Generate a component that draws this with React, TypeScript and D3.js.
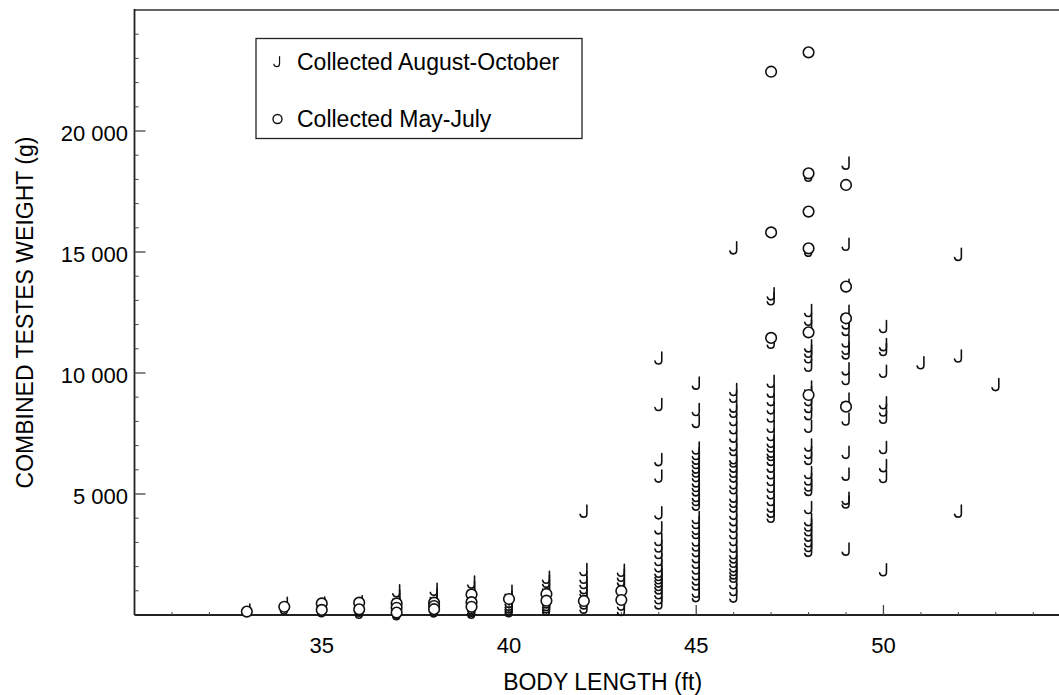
import React from "react";
import * as d3 from "d3";

// Body length (ft) -> combined testes weight (g), animals collected August-October
const augOctByLength: [number, number[]][] = [
  [33, [180]],
  [34, [460, 270]],
  [35, [470, 330, 160]],
  [36, [520, 360, 180, 90]],
  [37, [980, 760, 610, 470, 330, 210, 90, 30]],
  [38, [1040, 830, 690, 560, 450, 340, 250, 150]],
  [39, [1340, 1120, 930, 760, 620, 480, 390, 280, 170, 90]],
  [40, [960, 730, 540, 420, 330, 250, 160]],
  [41, [1540, 1370, 1180, 1010, 760, 520, 410, 320, 230]],
  [42, [4270, 1860, 1540, 1320, 1110, 950, 740, 480, 300]],
  [43, [1830, 1620, 1430, 1240, 1060, 880, 430, 210]],
  [44, [10600, 8680, 6400, 5720, 4200, 3580, 3100, 2830, 2560, 2270, 2010, 1790, 1650, 1520, 1380, 1240, 1100, 900, 690, 480]],
  [45, [9560, 8470, 7980, 6880, 6650, 6460, 6280, 6090, 5930, 5740, 5520, 5330, 5150, 4920, 4750, 4560, 4010, 3800, 3560, 3390, 3080, 2870, 2640, 2390, 2160, 1920, 1680, 1470, 1260, 960, 780]],
  [46, [15150, 9300, 9020, 8610, 8400, 8060, 7720, 7370, 7020, 6820, 6480, 6340, 6130, 5920, 5720, 5440, 5240, 4890, 4680, 4480, 4180, 3920, 3650, 3380, 3100, 2820, 2550, 2380, 2200, 2010, 1860, 1720, 1580, 1310, 1030, 760]],
  [47, [13250, 13050, 11250, 9640, 9230, 8880, 8540, 8200, 7780, 7440, 7160, 6960, 6750, 6610, 6410, 6130, 5860, 5580, 5300, 5030, 4750, 4480, 4270, 4060]],
  [48, [18150, 15050, 12560, 12200, 11910, 11100, 10880, 10650, 10300, 9400, 9170, 8880, 8600, 8300, 7780, 7000, 6700, 6450, 5870, 5600, 5350, 5170, 4420, 3920, 3700, 3500, 3280, 3050, 2850, 2650]],
  [49, [18650, 15300, 13600, 12530, 12050, 11780, 11300, 11000, 10810, 10150, 9750, 8900, 8080, 6700, 5800, 4800, 4650, 2700]],
  [50, [11900, 11150, 10950, 10050, 8750, 8450, 8150, 6900, 6150, 5700, 1850]],
  [51, [10400]],
  [52, [14880, 10680, 4270]],
  [53, [9500]],
];

// Animals collected May-July
const mayJulyByLength: [number, number[]][] = [
  [33, [140]],
  [34, [340]],
  [35, [480, 210]],
  [36, [510, 235]],
  [37, [480, 300, 100]],
  [38, [510, 370, 240]],
  [39, [850, 530, 340]],
  [40, [660]],
  [41, [870, 590]],
  [42, [580]],
  [43, [990, 620]],
  [47, [22450, 15810, 11450]],
  [48, [23250, 18250, 16670, 15150, 11680, 9090]],
  [49, [17770, 13570, 12260, 8610]],
];

const xMajorTicks = [35, 40, 45, 50];
const yMajorTicks = [5000, 10000, 15000, 20000];
const yTickLabels = ["5 000", "10 000", "15 000", "20 000"];
const legendLabels = ["Collected August-October", "Collected May-July"];

const W = 1059;
const H = 695;
const FONT = "'Liberation Sans', Arial, Helvetica, sans-serif";

const x = d3.scaleLinear().domain([30, 55]).range([134.5, 1070.7]);
const y = d3.scaleLinear().domain([0, 25000]).range([615, 10]);

// Hook-shaped marker: vertical stem with a curl at the bottom-left
const HOOK = "M3,-6.5V2Q3,5.5 -0.3,5.5Q-3.2,5.5 -3.8,2.6";

const flatten = (rows: [number, number[]][]) =>
  rows.flatMap(([len, ws]) => ws.map((w) => ({ len, w })));

export default function App() {
  const hooks = flatten(augOctByLength);
  const rings = flatten(mayJulyByLength);
  const xMinor = d3.range(31, 55).filter((v) => !xMajorTicks.includes(v));
  const yMinor = d3.range(1000, 25000, 1000).filter((v) => !yMajorTicks.includes(v));
  const [x0, x1] = x.range();
  const [y0, y1] = y.range();

  return (
    <svg
      width={W}
      height={H}
      style={{ position: "absolute", left: 0, top: 0, display: "block", background: "#fff" }}
      fontFamily={FONT}
    >
      <rect width={W} height={H} fill="#fff" />

      {/* frame */}
      <line x1={x0} x2={W} y1={y1} y2={y1} stroke="#333" strokeWidth={1.5} />
      <line x1={x0} x2={x0} y1={y1 - 1} y2={y0} stroke="#222" strokeWidth={1.8} />
      <line x1={x0} x2={W} y1={y0} y2={y0} stroke="#222" strokeWidth={1.8} />

      {/* x ticks */}
      {xMinor.map((v) => (
        <line key={"xm" + v} x1={x(v)} x2={x(v)} y1={y0} y2={y0 - 3} stroke="#444" strokeWidth={1} />
      ))}
      {xMajorTicks.map((v) => (
        <g key={"xM" + v}>
          <line x1={x(v)} x2={x(v)} y1={y0} y2={y0 - 10} stroke="#444" strokeWidth={1.3} />
          <text x={x(v)} y={653} textAnchor="middle" fontSize={22} fill="#000">
            {v}
          </text>
        </g>
      ))}

      {/* y ticks */}
      {yMinor.map((v) => (
        <line key={"ym" + v} x1={x0} x2={x0 + 4} y1={y(v)} y2={y(v)} stroke="#444" strokeWidth={1} />
      ))}
      {yMajorTicks.map((v, i) => (
        <g key={"yM" + v}>
          <line x1={x0} x2={x0 + 11} y1={y(v)} y2={y(v)} stroke="#444" strokeWidth={1.3} />
          <text x={128} y={y(v) + 9.5} textAnchor="end" fontSize={22} fill="#000">
            {yTickLabels[i]}
          </text>
        </g>
      ))}

      {/* axis titles */}
      <text x={(x0 + x1) / 2} y={690} textAnchor="middle" fontSize={23} fill="#000">
        BODY LENGTH (ft)
      </text>
      <text
        transform={`translate(33,${(y0 + y1) / 2}) rotate(-90)`}
        textAnchor="middle"
        fontSize={23}
        fill="#000"
      >
        COMBINED TESTES WEIGHT (g)
      </text>

      {/* August-October */}
      {hooks.map((d, i) => (
        <path
          key={"h" + i}
          d={HOOK}
          transform={`translate(${x(d.len)},${y(d.w)})`}
          fill="none"
          stroke="#111"
          strokeWidth={1.6}
          strokeLinecap="round"
        />
      ))}

      {/* May-July */}
      {rings.map((d, i) => (
        <circle
          key={"c" + i}
          cx={x(d.len)}
          cy={y(d.w)}
          r={5.3}
          fill="#fff"
          stroke="#111"
          strokeWidth={1.6}
        />
      ))}

      {/* legend */}
      <g>
        <rect x={256} y={38.5} width={326} height={100} fill="#fff" stroke="#222" strokeWidth={1.3} />
        <path d={HOOK} transform="translate(277,62) scale(0.85)" fill="none" stroke="#111" strokeWidth={1.4} strokeLinecap="round" />
        <circle cx={277.5} cy={119} r={4.5} fill="#fff" stroke="#111" strokeWidth={1.4} />
        <text x={297} y={70} fontSize={23} fill="#000">
          {legendLabels[0]}
        </text>
        <text x={297} y={127} fontSize={23} fill="#000">
          {legendLabels[1]}
        </text>
      </g>
    </svg>
  );
}
